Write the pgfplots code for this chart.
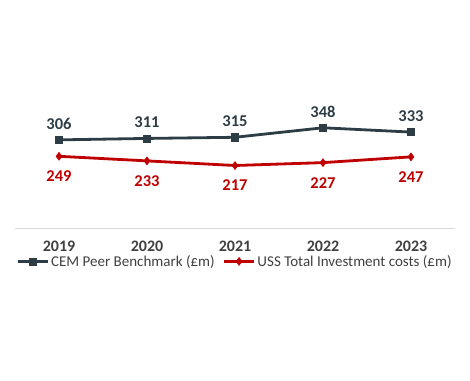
\documentclass[border=0pt]{standalone}
\usepackage{pgfplots}
\pgfplotsset{compat=1.18}
\usepackage{fontspec}
\setmainfont{Carlito}
\definecolor{cem}{HTML}{2E3C46}
\definecolor{uss}{HTML}{C00000}
\definecolor{txt}{HTML}{404040}
\begin{document}
\begin{tikzpicture}[x=1pt,y=1pt]
\path[use as bounding box] (0,0) rectangle (470,380);
\begin{axis}[
  at={(15pt,152pt)}, anchor=south west,
  scale only axis, width=440pt, height=115.2pt,
  xmin=-0.5, xmax=4.5, ymin=0, ymax=400,
  axis x line=bottom, axis y line=none,
  x axis line style={draw=black!15, line width=1pt, -},
  xtick={0,1,2,3,4}, xticklabels={2019,2020,2021,2022,2023},
  major tick length=0pt,
  xticklabel style={font=\fontsize{16}{19}\selectfont\bfseries, text=txt, yshift=-9pt},
  /pgf/number format/assume math mode=true,
  clip=false,
  legend style={at={(0.5,-0.29)}, anchor=center, draw=none, fill=none,
    legend columns=2, font=\fontsize{15}{18}\selectfont, text=txt,
    /tikz/every even column/.append style={column sep=6pt},
    inner sep=0pt},
  legend image code/.code={
    \draw[#1, mark repeat=2, mark phase=2] plot coordinates {(0pt,0pt) (15pt,0pt) (30pt,0pt)};
  },
]
\addplot[cem, line width=2.8pt, mark=square*, mark size=3.6pt, mark options={line width=0.5pt},
  nodes near coords, point meta=explicit symbolic,
  every node near coord/.append style={font=\fontsize{16.5}{19}\selectfont\bfseries, text=cem, anchor=south, yshift=7pt}]
  coordinates {(0,306)[306] (1,311)[311] (2,315)[315] (3,348)[348] (4,333)[333]};
\addlegendentry{CEM Peer Benchmark (£m)}
\addplot[uss, line width=2.8pt, mark=diamond*, mark size=4pt, mark options={line width=0.5pt},
  nodes near coords, point meta=explicit symbolic,
  every node near coord/.append style={font=\fontsize{16.5}{19}\selectfont\bfseries, text=uss, anchor=north, yshift=-11pt}]
  coordinates {(0,249)[249] (1,233)[233] (2,217)[217] (3,227)[227] (4,247)[247]};
\addlegendentry{USS Total Investment costs (£m)}
\end{axis}
\end{tikzpicture}
\end{document}
